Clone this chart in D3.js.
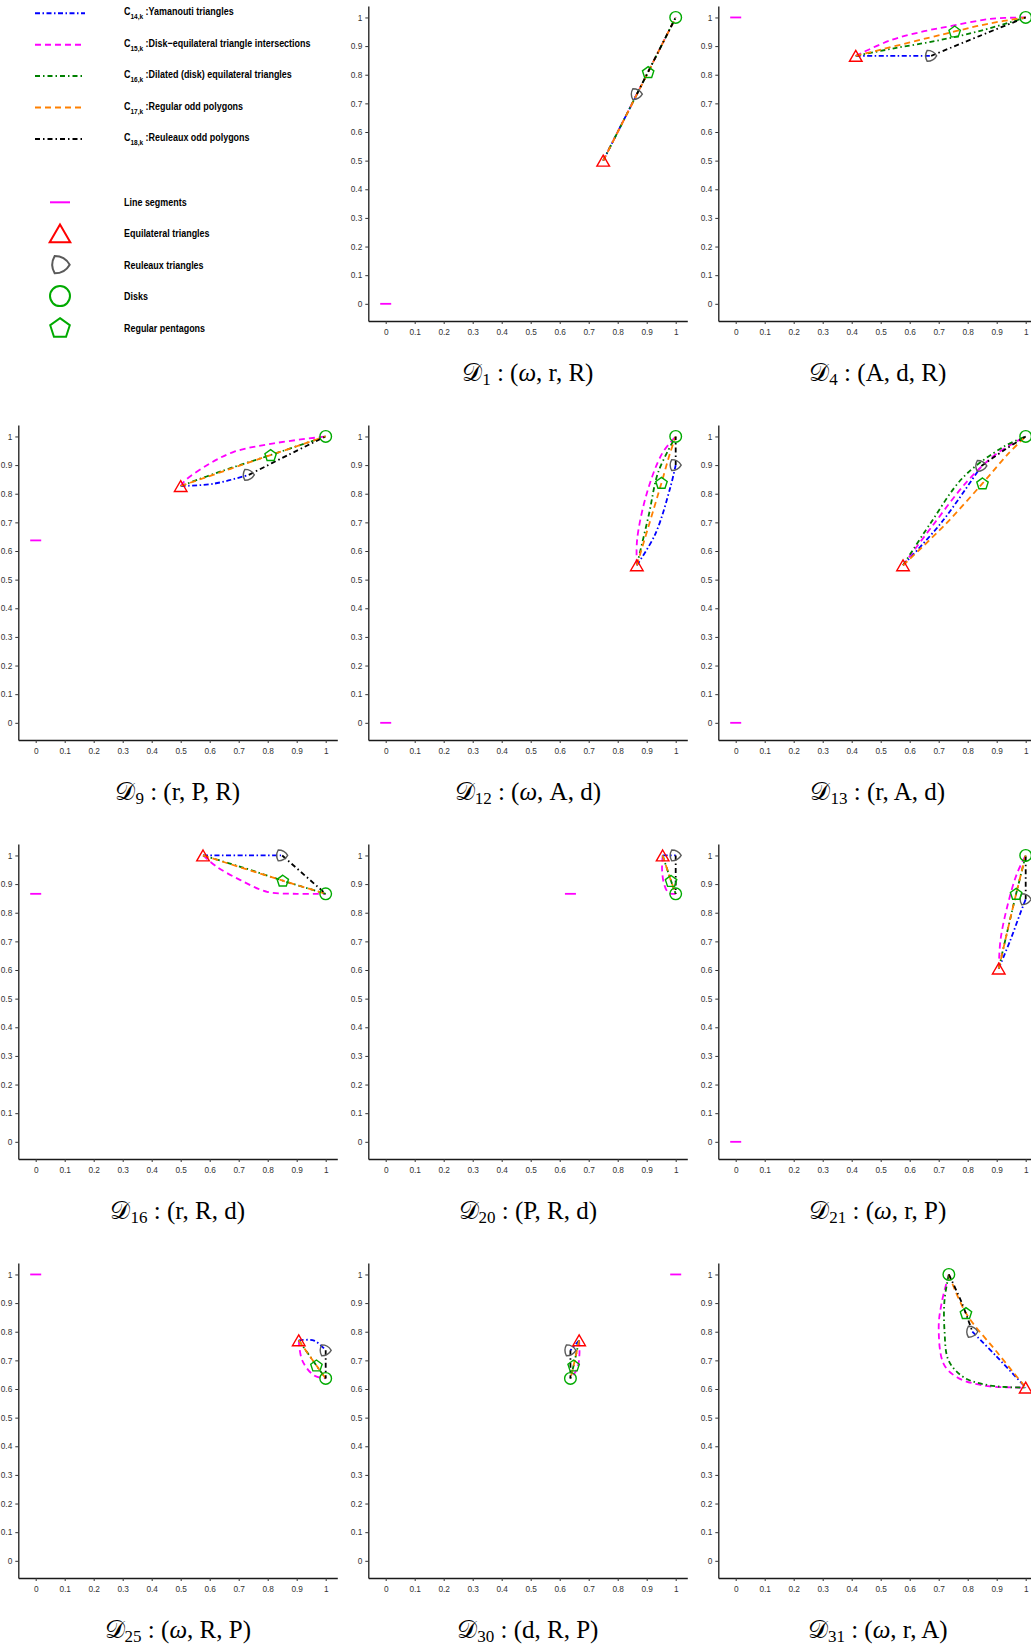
<!DOCTYPE html>
<html><head><meta charset="utf-8">
<script src="https://cdn.jsdelivr.net/npm/d3@7/dist/d3.min.js"></script>
<style>body{margin:0;background:#fff}svg{display:block}</style>
</head><body>
<svg id="chart" width="1031" height="1647"></svg>
<script>
// ---------------- data ----------------
const panelIds  = ["1","4","9","12","13","16","20","21","25","30","31"];
const panelVars = [["ω","r","R"],["A","d","R"],["r","P","R"],["ω","A","d"],["r","A","d"],
                   ["r","R","d"],["P","R","d"],["ω","r","P"],["ω","R","P"],["d","R","P"],["ω","r","A"]];
const tickValues = [0,0.1,0.2,0.3,0.4,0.5,0.6,0.7,0.8,0.9,1];
const tickLabels = ["0","0.1","0.2","0.3","0.4","0.5","0.6","0.7","0.8","0.9","1"];

// marker positions per panel [x, y]
const segments  = [[0,0],[0,1],[0,0.637],[0,0],[0,0],[0,0.866],[0.637,0.866],[0,0],[0,1],[1,1],null];
const triangles = [[0.75,0.5],[0.414,0.866],[0.5,0.827],[0.866,0.55],[0.577,0.55],[0.577,1],[0.955,1],[0.907,0.605],[0.907,0.77],[0.667,0.77],[1,0.605]];
const reuleaux  = [[0.866,0.732],[0.674,0.866],[0.735,0.866],[1,0.9],[0.847,0.897],[0.85,1],[1,1],[1,0.847],[1,0.735],[0.637,0.735],[0.816,0.8]];
const disks     = [[1,1],[1,1],[1,1],[1,1],[1,1],[1,0.866],[1,0.866],[1,1],[1,0.637],[0.637,0.637],[0.735,1]];
const pentagons = [[0.905,0.809],[0.755,0.951],[0.81,0.935],[0.951,0.838],[0.851,0.836],[0.852,0.912],[0.984,0.911],[0.967,0.866],[0.968,0.682],[0.648,0.682],[0.794,0.865]];

// curves per panel
const c14 = [
  [[0.75,0.5],[0.81,0.62],[0.866,0.732]],
  [[0.414,0.866],[0.55,0.866],[0.674,0.866]],
  [[0.5,0.827],[0.614,0.835],[0.735,0.866]],
  [[0.866,0.55],[0.93,0.66],[0.982,0.824],[1,0.9]],
  [[0.577,0.55],[0.71,0.7],[0.847,0.897]],
  [[0.577,1],[0.72,1],[0.85,1]],
  [[0.955,1],[1,1]],
  [[0.907,0.605],[0.947,0.704],[0.982,0.8],[1,0.847]],
  [[0.907,0.77],[0.96,0.769],[1,0.735]],
  [[0.667,0.77],[0.637,0.735]],
  [[0.816,0.8],[0.9,0.713],[1,0.605]]
];
const c15 = [
  [[0.75,0.5],[0.87,0.74],[1,1]],
  [[0.414,0.866],[0.533,0.92],[0.65,0.952],[0.752,0.972],[0.878,0.995],[1,1]],
  [[0.5,0.827],[0.516,0.847],[0.6,0.905],[0.683,0.946],[0.821,0.976],[1,1]],
  [[0.866,0.55],[0.867,0.64],[0.9,0.8],[0.953,0.94],[1,1]],
  [[0.577,0.55],[0.68,0.69],[0.8,0.845],[0.9,0.94],[1,1]],
  [[0.577,1],[0.625,0.96],[0.706,0.914],[0.798,0.873],[0.9,0.866],[1,0.866]],
  [[0.955,1],[0.953,0.95],[0.96,0.9],[0.975,0.87],[1,0.866]],
  [[0.907,0.605],[0.913,0.704],[0.936,0.82],[0.97,0.937],[1,1]],
  [[0.907,0.77],[0.919,0.7],[0.96,0.647],[1,0.637]],
  [[0.667,0.77],[0.668,0.72],[0.66,0.67],[0.637,0.637]],
  [[0.735,1],[0.71,0.9],[0.7,0.813],[0.717,0.688],[0.763,0.641],[0.855,0.612],[1,0.605]]
];
const c16 = [
  [[0.75,0.5],[0.87,0.74],[1,1]],
  [[0.414,0.866],[0.55,0.893],[0.7,0.92],[0.85,0.955],[1,1]],
  [[0.5,0.827],[0.65,0.882],[0.81,0.935],[1,1]],
  [[0.866,0.55],[0.907,0.725],[0.94,0.876],[1,1]],
  [[0.577,0.55],[0.671,0.696],[0.786,0.859],[0.924,0.964],[1,1]],
  [[0.577,1],[0.72,0.956],[0.852,0.912],[1,0.866]],
  [[0.955,1],[0.984,0.911],[1,0.866]],
  [[0.907,0.605],[0.94,0.75],[0.967,0.866],[1,1]],
  [[0.907,0.77],[0.968,0.682],[1,0.637]],
  [[0.667,0.77],[0.648,0.682],[0.637,0.637]],
  [[0.735,1],[0.72,0.91],[0.72,0.805],[0.734,0.7],[0.786,0.641],[0.878,0.612],[1,0.605]]
];
const c17 = [
  [[0.75,0.5],[0.905,0.809],[0.95,0.9],[1,1]],
  [[0.414,0.866],[0.755,0.951],[0.87,0.978],[1,1]],
  [[0.5,0.827],[0.81,0.935],[1,1]],
  [[0.866,0.55],[0.951,0.838],[0.98,0.94],[1,1]],
  [[0.577,0.55],[0.72,0.69],[0.851,0.836],[0.94,0.94],[1,1]],
  [[0.577,1],[0.852,0.912],[1,0.866]],
  [[0.955,1],[0.984,0.911],[1,0.866]],
  [[0.907,0.605],[0.967,0.866],[1,1]],
  [[0.907,0.77],[0.968,0.682],[1,0.637]],
  [[0.667,0.77],[0.648,0.682],[0.637,0.637]],
  [[0.735,1],[0.794,0.865],[0.9,0.73],[1,0.605]]
];
const c18 = [
  [[0.866,0.732],[0.93,0.86],[1,1]],
  [[0.674,0.866],[0.84,0.935],[1,1]],
  [[0.735,0.866],[0.87,0.935],[1,1]],
  [[1,0.9],[1,1]],
  [[0.847,0.897],[0.93,0.955],[1,1]],
  [[0.85,1],[1,0.866]],
  [[1,1],[1,0.866]],
  [[1,0.847],[1,1]],
  [[1,0.735],[1,0.637]],
  [[0.637,0.735],[0.637,0.637]],
  [[0.735,1],[0.78,0.9],[0.816,0.8]]
];

const curveSubs   = ["14,k","15,k","16,k","17,k","18,k"];
const curveLabels = [":Yamanouti triangles",":Disk\u2212equilateral triangle intersections",
                     ":Dilated (disk) equilateral triangles",":Regular odd polygons",":Reuleaux odd polygons"];
const shapeLabels = ["Line segments","Equilateral triangles","Reuleaux triangles","Disks","Regular pentagons"];

// ---------------- styles ----------------
const curveStyles = [
  {color:"#0000ff", dash:"5,2.5,1.5,2.5"},
  {color:"#ff00ff", dash:"6,4"},
  {color:"#008000", dash:"5,3,1.5,3"},
  {color:"#ff8000", dash:"6,4"},
  {color:"#000000", dash:"5,3,1.5,3"}
];
const curveData = [c14,c15,c16,c17,c18];
const RED="#ff0000", GRAY="#5a5a5a", GREEN="#00aa00", MAG="#ff00ff";
const LEG_FONT = "'Liberation Sans',Arial,sans-serif";
const SERIF = "'Liberation Serif','DejaVu Serif',serif";
const LEG_SX = 0.815;

// ---------------- marker paths ----------------
function triPath(s){const h=s*Math.sqrt(3);return `M0,${-h/2}L${s},${h/2}L${-s},${h/2}Z`;}
function pentPath(r){const p=d3.path();for(let k=0;k<5;k++){const a=-Math.PI/2+k*2*Math.PI/5;const x=r*Math.cos(a),y=r*Math.sin(a)+r*0.09;k?p.lineTo(x,y):p.moveTo(x,y);}p.closePath();return p.toString();}
function reuPath(r){const s=r*Math.sqrt(3);const v=[0,1,2].map(k=>[r*Math.cos(k*2*Math.PI/3)-0.13*r,r*Math.sin(k*2*Math.PI/3)]);
  return `M${v[0]}A${s},${s} 0 0,1 ${v[1]}A${s},${s} 0 0,1 ${v[2]}A${s},${s} 0 0,1 ${v[0]}Z`;}

const svg = d3.select("#chart");
svg.append("rect").attr("width",1031).attr("height",1647).attr("fill","#fff");

// ---------------- legend ----------------
const leg = svg.append("g");
const legLineY = [13.3,44.7,76.1,107.5,138.9];
curveStyles.forEach((st,i)=>{
  leg.append("line").attr("x1",35).attr("x2",85).attr("y1",legLineY[i]).attr("y2",legLineY[i])
    .attr("stroke",st.color).attr("stroke-width",2).attr("stroke-dasharray",st.dash);
  const t = leg.append("text").attr("transform",`translate(124,${legLineY[i]+2}) scale(${LEG_SX},1)`)
    .attr("font-family",LEG_FONT).attr("font-weight","bold").attr("font-size",11).attr("fill","#000");
  t.append("tspan").text("C");
  t.append("tspan").attr("font-size",8).attr("dy",4).text(curveSubs[i]);
  t.append("tspan").attr("dy",-4).text(" "+curveLabels[i]);
});
const legShapeY = [202.3,233.3,264.7,296.1,327.5];
leg.append("line").attr("x1",50).attr("x2",70).attr("y1",legShapeY[0]).attr("y2",legShapeY[0]).attr("stroke",MAG).attr("stroke-width",2);
leg.append("path").attr("d",triPath(10.3)).attr("transform",`translate(60,${legShapeY[1]})`).attr("fill","none").attr("stroke",RED).attr("stroke-width",2);
leg.append("path").attr("d",reuPath(10)).attr("transform",`translate(61,${legShapeY[2]})`).attr("fill","none").attr("stroke",GRAY).attr("stroke-width",2);
leg.append("circle").attr("cx",60).attr("cy",legShapeY[3]).attr("r",10).attr("fill","none").attr("stroke",GREEN).attr("stroke-width",2);
leg.append("path").attr("d",pentPath(10.3)).attr("transform",`translate(60,${legShapeY[4]})`).attr("fill","none").attr("stroke",GREEN).attr("stroke-width",2);
shapeLabels.forEach((lab,i)=>{
  leg.append("text").attr("transform",`translate(124,${legShapeY[i]+4}) scale(${LEG_SX},1)`)
    .attr("font-family",LEG_FONT).attr("font-weight","bold").attr("font-size",11).attr("fill","#000").text(lab);
});

// ---------------- panels ----------------
const colX = [18.3,368.3,718.3];
const rowTop = [6,425,844,1263];
const W = 319, H = 315;
const domain = [-0.06,1.04];

panelIds.forEach((pid,pi)=>{
  const idx = pi+1, r = Math.floor(idx/3), c = idx%3;
  const x0 = colX[c], yTop = rowTop[r];
  const x = d3.scaleLinear().domain(domain).range([x0, x0+W]);
  const y = d3.scaleLinear().domain(domain).range([yTop+H, yTop]);
  const g = svg.append("g");

  const xa = g.append("g").attr("transform",`translate(0,${yTop+H})`)
    .call(d3.axisBottom(x).tickValues(tickValues).tickFormat((d,i)=>tickLabels[i]).tickSize(3).tickSizeOuter(0).tickPadding(5));
  const ya = g.append("g").attr("transform",`translate(${x0},0)`)
    .call(d3.axisLeft(y).tickValues(tickValues).tickFormat((d,i)=>tickLabels[i]).tickSize(3).tickSizeOuter(0).tickPadding(3));
  [xa,ya].forEach(a=>{
    a.select(".domain").attr("stroke","#1a1a1a").attr("stroke-width",1.3);
    a.selectAll(".tick line").attr("stroke","#333");
    a.selectAll(".tick text").attr("font-family","'Liberation Sans',Arial,sans-serif").attr("font-size",8.3).attr("fill","#333");
  });

  const line = d3.line().x(d=>x(d[0])).y(d=>y(d[1])).curve(d3.curveCatmullRom.alpha(0.5));
  curveData.forEach((cd,ci)=>{
    g.append("path").attr("d",line(cd[pi])).attr("fill","none")
      .attr("stroke",curveStyles[ci].color).attr("stroke-width",1.8).attr("stroke-dasharray",curveStyles[ci].dash);
  });

  if (segments[pi]) {
    const s = segments[pi];
    g.append("line").attr("x1",x(s[0])-5.5).attr("x2",x(s[0])+5.5).attr("y1",y(s[1])).attr("y2",y(s[1]))
      .attr("stroke",MAG).attr("stroke-width",1.8);
  }
  const tr = triangles[pi], ru = reuleaux[pi], di = disks[pi], pe = pentagons[pi];
  g.append("path").attr("d",reuPath(6.3)).attr("transform",`translate(${x(ru[0])},${y(ru[1])})`).attr("fill","none").attr("stroke",GRAY).attr("stroke-width",1.4);
  g.append("path").attr("d",pentPath(6)).attr("transform",`translate(${x(pe[0])},${y(pe[1])})`).attr("fill","none").attr("stroke",GREEN).attr("stroke-width",1.4);
  g.append("circle").attr("cx",x(di[0])).attr("cy",y(di[1])).attr("r",5.8).attr("fill","none").attr("stroke",GREEN).attr("stroke-width",1.4);
  g.append("path").attr("d",triPath(6.3)).attr("transform",`translate(${x(tr[0])},${y(tr[1])})`).attr("fill","none").attr("stroke",RED).attr("stroke-width",1.4);

  // title
  const t = g.append("text").attr("x",x0+W/2).attr("y",yTop+H+60).attr("text-anchor","middle")
    .attr("font-family",SERIF).attr("font-size",25).attr("fill","#000");
  t.append("tspan").attr("font-family",SERIF).text("\u{1D49F}");
  t.append("tspan").attr("font-family",SERIF).attr("font-size",17).attr("dy",3.5).text(pid);
  t.append("tspan").attr("font-family",SERIF).attr("dy",-3.5).text(" : (");
  panelVars[pi].forEach((v,vi)=>{
    const sp = t.append("tspan").attr("font-family",SERIF).text(v);
    if (v==="ω") sp.attr("font-style","italic");
    if (vi<2) t.append("tspan").attr("font-family",SERIF).text(", ");
  });
  t.append("tspan").attr("font-family",SERIF).text(")");
});
</script>
</body></html>
